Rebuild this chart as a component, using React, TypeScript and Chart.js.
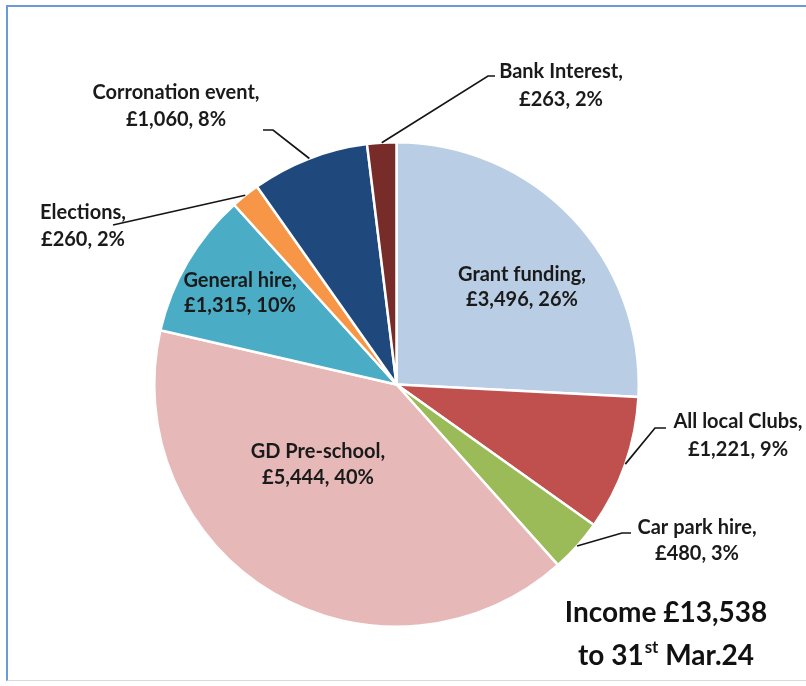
import React, { useEffect, useRef } from "react";
import { Chart, registerables } from "chart.js";

Chart.register(...registerables);

const categories = [
  "Grant funding",
  "All local Clubs",
  "Car park hire",
  "GD Pre-school",
  "General hire",
  "Elections",
  "Corronation event",
  "Bank Interest",
];
const amounts = [3496, 1221, 480, 5444, 1315, 260, 1060, 263];
const percentLabels = [26, 9, 3, 40, 10, 2, 8, 2];
const sliceColors = [
  "#B9CDE5",
  "#C0504D",
  "#9BBB59",
  "#E6B9B8",
  "#4BACC6",
  "#F79646",
  "#1F497D",
  "#772C2A",
];
const titleLine1 = "Income £13,538";
const titleLine2 = ["to 31", "st", " Mar.24"];

type LabelPos = { x: number; y: number; gap: number; elbow?: [number, number]; end?: [number, number] };
const labelLayout: LabelPos[] = [
  { x: 522, y: 275, gap: 25 },
  { x: 738, y: 422, gap: 28, elbow: [655, 428], end: [666, 428] },
  { x: 697, y: 528, gap: 26, elbow: [622, 533], end: [631, 533] },
  { x: 318, y: 452, gap: 26 },
  { x: 240, y: 281, gap: 25 },
  { x: 83, y: 213, gap: 27, end: [113, 225] },
  { x: 176, y: 93, gap: 27, elbow: [273, 130], end: [263, 130] },
  { x: 561, y: 72, gap: 28, elbow: [488, 76], end: [495, 76] },
];

const FONT = "Lato, 'DejaVu Sans', sans-serif";

const labelPlugin = {
  id: "sliceLabels",
  afterDatasetsDraw(chart: any) {
    const ctx = chart.ctx as CanvasRenderingContext2D;
    const meta = chart.getDatasetMeta(0);
    ctx.save();
    meta.data.forEach((arc: any, i: number) => {
      const p = arc.getProps(["x", "y", "startAngle", "endAngle", "outerRadius"], true);
      const L = labelLayout[i];
      if (L.end) {
        const mid = (p.startAngle + p.endAngle) / 2;
        const sx = p.x + Math.cos(mid) * p.outerRadius;
        const sy = p.y + Math.sin(mid) * p.outerRadius;
        ctx.beginPath();
        ctx.moveTo(sx, sy);
        if (L.elbow) ctx.lineTo(L.elbow[0], L.elbow[1]);
        ctx.lineTo(L.end[0], L.end[1]);
        ctx.strokeStyle = "#151515";
        ctx.lineWidth = 1.7;
        ctx.stroke();
      }
      ctx.font = `bold 20px ${FONT}`;
      ctx.fillStyle = "#1a1a1a";
      ctx.textAlign = "center";
      ctx.textBaseline = "middle";
      ctx.fillText(categories[i] + ",", L.x, L.y);
      ctx.fillText(
        `£${amounts[i].toLocaleString("en-GB")}, ${percentLabels[i]}%`,
        L.x,
        L.y + L.gap
      );
    });

    // Title block
    const cx = 666;
    ctx.fillStyle = "#111";
    ctx.textBaseline = "alphabetic";
    ctx.textAlign = "center";
    const bigFont = `bold 28px ${FONT}`;
    const smallFont = `bold 17px ${FONT}`;
    ctx.font = bigFont;
    ctx.fillText(titleLine1, cx, 622);
    const w1 = ctx.measureText(titleLine2[0]).width;
    const w3 = ctx.measureText(titleLine2[2]).width;
    ctx.font = smallFont;
    const w2 = ctx.measureText(titleLine2[1]).width;
    let x = cx - (w1 + w2 + w3 + 1) / 2;
    ctx.textAlign = "left";
    ctx.font = bigFont;
    ctx.fillText(titleLine2[0], x, 665);
    x += w1 + 1;
    ctx.font = smallFont;
    ctx.fillText(titleLine2[1], x, 653);
    x += w2;
    ctx.font = bigFont;
    ctx.fillText(titleLine2[2], x, 665);
    ctx.restore();
  },
};

export default function App() {
  const canvasRef = useRef<HTMLCanvasElement | null>(null);

  useEffect(() => {
    if (!canvasRef.current) return;
    const chart = new Chart(canvasRef.current, {
      type: "pie",
      data: {
        labels: categories,
        datasets: [
          {
            data: amounts,
            backgroundColor: sliceColors,
            borderColor: "#ffffff",
            borderWidth: 2.5,
          },
        ],
      },
      options: {
        responsive: false,
        animation: false,
        layout: { padding: { left: 152, right: 165, top: 141, bottom: 58 } },
        plugins: {
          legend: { display: false },
          tooltip: { enabled: false },
          title: { display: false },
        },
      },
      plugins: [labelPlugin],
    });
    return () => chart.destroy();
  }, []);

  return (
    <div
      style={{
        position: "fixed",
        left: 0,
        top: 0,
        width: 806,
        height: 686,
        background: "#ffffff",
        overflow: "hidden",
      }}
    >
      <div
        style={{
          position: "absolute",
          left: 6,
          top: 5,
          width: 820,
          height: 676,
          borderTop: "2px solid #6B9BD6",
          borderLeft: "2px solid #6B9BD6",
          borderBottom: "1px solid #d9d9d9",
          boxSizing: "border-box",
        }}
      />
      <canvas
        ref={canvasRef}
        width={806}
        height={686}
        style={{ position: "absolute", left: 0, top: 0, width: 806, height: 686 }}
      />
    </div>
  );
}
